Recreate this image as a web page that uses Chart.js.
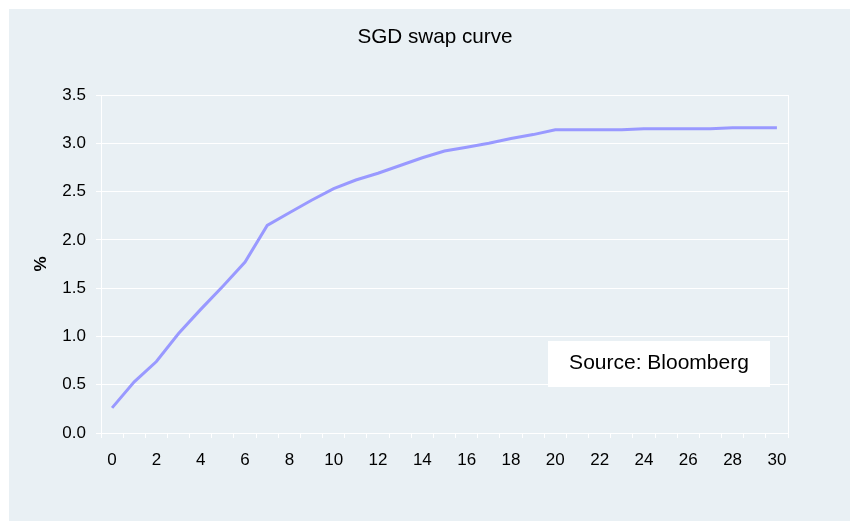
<!DOCTYPE html>
<html>
<head>
<meta charset="utf-8">
<title>SGD swap curve</title>
<script src="https://cdn.jsdelivr.net/npm/chart.js@4.4.1/dist/chart.umd.min.js"></script>
<style>
  html, body { margin: 0; padding: 0; background: #ffffff; }
  #wrap { width: 850px; height: 521px; }
</style>
</head>
<body>
<div id="wrap"><canvas id="c" width="850" height="521"></canvas></div>
<script>
// Tenor in years (category axis) and SGD swap rates in percent
const tenors = ['0','1','2','3','4','5','6','7','8','9','10','11','12','13','14','15',
                '16','17','18','19','20','21','22','23','24','25','26','27','28','29','30'];
const swapRates = [0.26, 0.53, 0.74, 1.03, 1.28, 1.52, 1.77, 2.15, 2.28, 2.41, 2.53,
                   2.62, 2.69, 2.77, 2.85, 2.92, 2.96, 3.00, 3.05, 3.09, 3.14,
                   3.14, 3.14, 3.14, 3.15, 3.15, 3.15, 3.15, 3.16, 3.16, 3.16];
const yTicks = [0, 0.5, 1.0, 1.5, 2.0, 2.5, 3.0, 3.5];
const chartTitle = 'SGD swap curve';
const yTitle = '%';
const sourceNote = 'Source: Bloomberg';

const FONT = '"Liberation Sans", Arial, Helvetica, sans-serif';
const BG = '#e9f0f4';

// Panel background, the centred heading and the white frame line on the right of the plot
const panelPlugin = {
  id: 'panel',
  beforeDraw(chart) {
    const ctx = chart.ctx;
    ctx.save();
    ctx.fillStyle = BG;
    ctx.fillRect(9, 9, chart.width - 9, chart.height - 9);
    ctx.fillStyle = '#000000';
    ctx.font = '20.7px ' + FONT;
    ctx.textAlign = 'center';
    ctx.textBaseline = 'middle';
    ctx.fillText(chartTitle, 435, 37);
    ctx.restore();
  },
  afterDatasetsDraw(chart) {
    const { ctx, chartArea } = chart;
    ctx.save();
    ctx.strokeStyle = '#ffffff';
    ctx.lineWidth = 1;
    ctx.beginPath();
    ctx.moveTo(Math.round(chartArea.right) + 0.5, chartArea.top);
    ctx.lineTo(Math.round(chartArea.right) + 0.5, chartArea.bottom + 5);
    ctx.stroke();
    ctx.restore();
  }
};

// White box with the data source note, inside the lower right of the plot
const sourcePlugin = {
  id: 'sourceNote',
  afterDraw(chart) {
    const { ctx, chartArea } = chart;
    const w = 222, h = 46;
    const x = chartArea.right - 240;
    const y = chartArea.bottom - 92;
    ctx.save();
    ctx.fillStyle = '#ffffff';
    ctx.fillRect(x, y, w, h);
    ctx.fillStyle = '#000000';
    ctx.font = '21px ' + FONT;
    ctx.textAlign = 'center';
    ctx.textBaseline = 'middle';
    ctx.fillText(sourceNote, x + w / 2, y + h / 2 - 1);
    ctx.restore();
  }
};

new Chart(document.getElementById('c'), {
  type: 'line',
  data: {
    labels: tenors,
    datasets: [{
      data: swapRates,
      borderColor: '#9999ff',
      borderWidth: 3,
      pointRadius: 0,
      tension: 0,
      fill: false
    }]
  },
  options: {
    responsive: false,
    animation: false,
    layout: { padding: { left: 0, right: 62, top: 95, bottom: 0 } },
    plugins: {
      legend: { display: false },
      tooltip: { enabled: false },
      title: { display: false }
    },
    scales: {
      x: {
        type: 'category',
        offset: true,
        afterFit(scale) { scale.height = 88; },
        grid: {
          offset: true,
          drawOnChartArea: false,
          drawTicks: true,
          tickLength: 5,
          color: '#ffffff',
          lineWidth: 1
        },
        border: { display: true, color: '#ffffff', width: 1 },
        ticks: {
          autoSkip: false,
          maxRotation: 0,
          padding: 12,
          color: '#000000',
          font: { family: FONT, size: 17 },
          callback(value, index) {
            return index % 2 === 0 ? tenors[index] : '';
          }
        }
      },
      y: {
        min: yTicks[0],
        max: yTicks[yTicks.length - 1],
        afterFit(scale) { scale.width = 101; },
        afterBuildTicks(scale) {
          scale.ticks = yTicks.map(v => ({ value: v }));
        },
        grid: {
          drawOnChartArea: true,
          drawTicks: true,
          tickLength: 5,
          color: '#ffffff',
          lineWidth: 1
        },
        border: { display: true, color: '#ffffff', width: 1 },
        ticks: {
          padding: 10,
          color: '#000000',
          font: { family: FONT, size: 17 },
          callback(value) { return Number(value).toFixed(1); }
        },
        title: {
          display: true,
          text: yTitle,
          color: '#000000',
          font: { family: FONT, size: 17, weight: 'bold' },
          padding: { top: 31, bottom: 0 }
        }
      }
    }
  },
  plugins: [panelPlugin, sourcePlugin]
});
</script>
</body>
</html>
